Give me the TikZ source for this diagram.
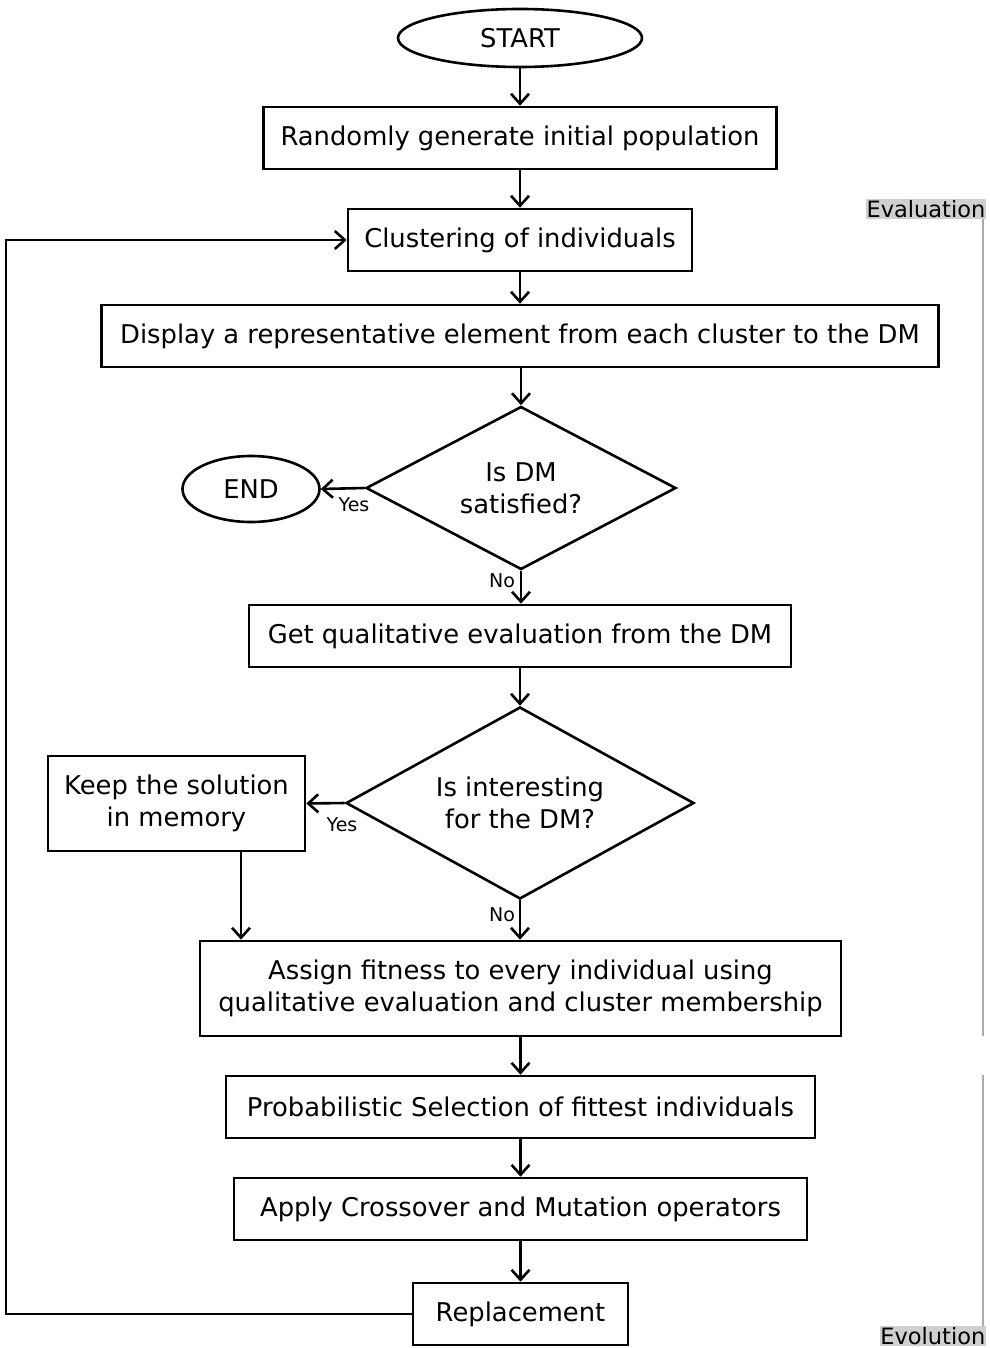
\documentclass[tikz,border=0pt]{standalone}
\usepackage{fontspec}
\setmainfont{DejaVu Sans}
\usetikzlibrary{arrows.meta,shapes.geometric}
\definecolor{tagbg}{RGB}{208,208,208}
\definecolor{railgray}{RGB}{170,170,170}
\begin{document}
\begin{tikzpicture}[x=1pt,y=-1pt,
  every node/.style={font=\fontsize{25.8}{32}\selectfont, inner sep=0pt},
  proc/.style={draw, line width=2.6pt, minimum height=62pt, align=center},
  term/.style={draw, ellipse, line width=2.6pt},
  decision/.style={draw, diamond, line width=2.6pt, align=center},
  flow/.style={line width=2.6pt, -{Straight Barb[length=10pt,width=18pt,line width=2.6pt]}},
  lbl/.style={font=\fontsize{19}{22}\selectfont},
  tag/.style={fill=tagbg, font=\fontsize{22.5}{26}\selectfont, inner xsep=0.5pt, inner ysep=1pt},
  rail/.style={draw=railgray, line width=2.2pt}
]
\useasboundingbox (0,0) rectangle (989,1348);

\node[term, minimum width=244pt, minimum height=58pt] (start) at (520,38) {START};
\node[proc, minimum width=513pt] (init) at (520,138) {Randomly generate initial population};
\node[proc, minimum width=344pt] (clus) at (520,240) {Clustering of individuals};
\node[proc, minimum width=837pt] (disp) at (520,336) {Display a representative element from each cluster to the DM};
\node[decision, aspect=1.9, minimum width=310pt, minimum height=163pt] (sat) at (521,488) {Is DM\\satisfied?};
\node[term, minimum width=137pt, minimum height=66pt] (end) at (251,489) {END};
\node[proc, minimum width=542pt] (qual) at (520,636) {Get qualitative evaluation from the DM};
\node[decision, aspect=1.81, minimum width=348pt, minimum height=192pt] (intr) at (520,803) {Is interesting\\for the DM?};
\node[proc, minimum width=257pt, minimum height=95pt] (keep) at (176.5,803.5) {Keep the solution\\in memory};
\node[proc, minimum width=641pt, minimum height=95pt] (fit) at (520.5,988.5) {Assign fitness to every individual using\\qualitative evaluation and cluster membership};
\node[proc, minimum width=589pt] (sel) at (520.5,1107) {Probabilistic Selection of fittest individuals};
\node[proc, minimum width=573pt] (xover) at (520.5,1209) {Apply Crossover and Mutation operators};
\node[proc, minimum width=215pt] (repl) at (520.5,1314) {Replacement};

% main vertical flow
\draw[flow] (start) -- (init);
\draw[flow] (init) -- (clus);
\draw[flow] (clus) -- (disp);
\draw[flow] (disp.south -| sat.north) -- (sat.north);
\draw[flow] (sat.south) -- (sat.south |- qual.north);
\draw[flow] (qual.south -| intr.north) -- (intr.north);
\draw[flow] (intr.south) -- (intr.south |- fit.north);
\draw[flow] (fit) -- (sel);
\draw[flow] (sel) -- (xover);
\draw[flow] (xover) -- (repl);

% side branches
\draw[flow] (sat.west) -- (end.east);
\draw[flow] (intr.west) -- (keep.east);
\coordinate (keepdrop) at (241,0);
\draw[flow] (keep.south -| keepdrop) -- (fit.north -| keepdrop);

% loop back to clustering
\coordinate (loopx) at (6,0);
\draw[flow] (repl.west) -- (repl.west -| loopx) -- (clus.west -| loopx) -- (clus.west);

% branch labels
\node[lbl] (yes1) at (354,505) {Yes};
\node[lbl] (no1) at (502,581) {No};
\node[lbl] (yes2) at (342,825) {Yes};
\node[lbl] (no2) at (502,915) {No};

% phase rails
\node[tag, anchor=north east] (evaltag) at (986,199) {Evaluation};
\coordinate (evalend) at (983,1036);
\draw[rail] (evaltag.south -| evalend) -- (evalend);
\node[tag, anchor=south east] (evoltag) at (986,1346) {Evolution};
\coordinate (evolbeg) at (983,1075);
\draw[rail] (evolbeg) -- (evoltag.north -| evolbeg);
\end{tikzpicture}
\end{document}
